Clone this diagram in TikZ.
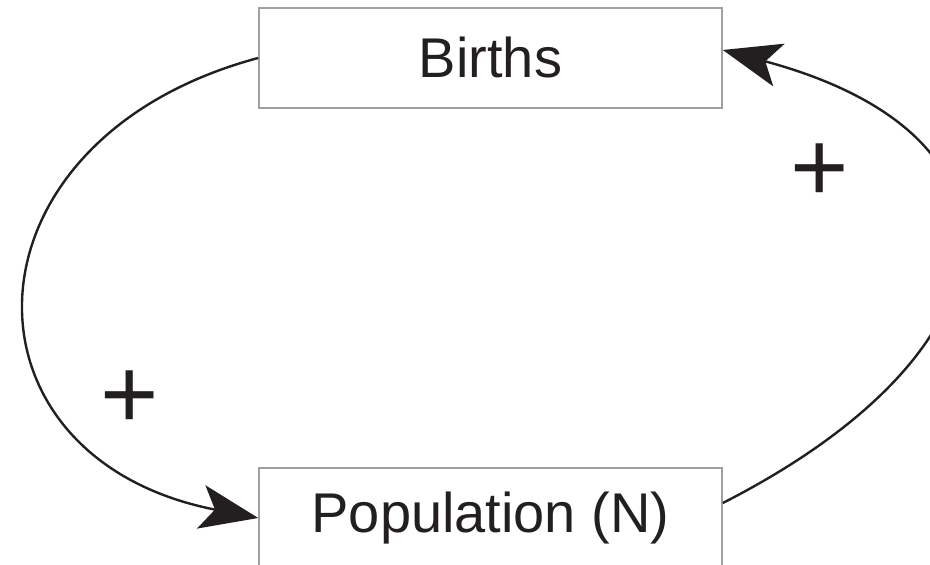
\documentclass[tikz,border=0pt]{standalone}
\usepackage{fontspec}
\setmainfont{Liberation Sans}
\usepackage{xcolor}
\usetikzlibrary{arrows.meta}
\definecolor{boxline}{HTML}{A0A0A0}
\definecolor{inkdark}{HTML}{231F20}

\begin{document}
\begin{tikzpicture}[
  x=0.5pt, y=0.5pt,
  stockbox/.style={rectangle, draw=boxline, line width=0.8pt, minimum width=231.5pt, minimum height=50pt, inner sep=0pt, font=\fontsize{28}{32}\selectfont\color{inkdark}},
  link/.style={draw=inkdark, line width=1.2pt, -{Stealth[length=29pt, width=22pt, inset=7pt]}},
  sign/.style={font=\fontsize{50}{54}\selectfont\color{inkdark}, inner sep=0pt},
]
\useasboundingbox (0,0) rectangle (930,565);

% Births
\node[stockbox] (births) at (490.5,507) {Births};

% Population
\node[stockbox] (pop) at (490.5,47) {Population (N)};

% loops
\draw[link] (births.west) to[out=195, in=169, looseness=1.76] (pop.west);
\draw[link] ([yshift=7.5pt]pop.east) to[out=27, in=-15, looseness=1.9] ([yshift=4pt]births.east);

% signs
\node[sign] (plusL) at (130,165) {+};
\node[sign] (plusR) at (820,392) {+};
\end{tikzpicture}
\end{document}
